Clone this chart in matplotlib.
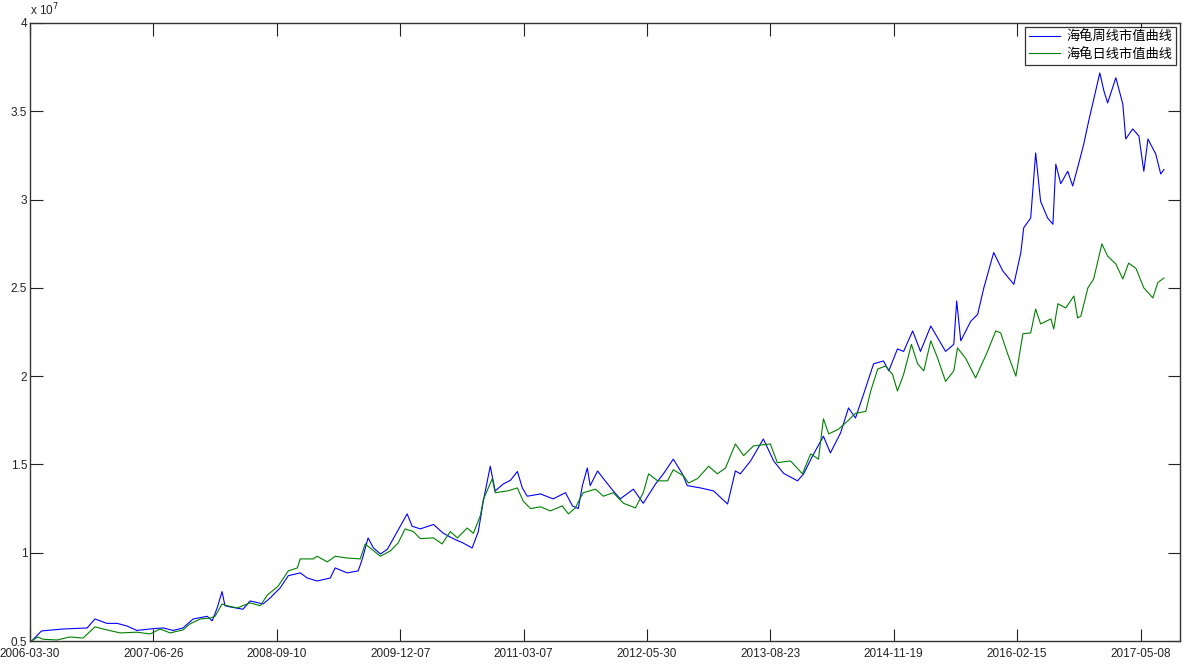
import matplotlib
matplotlib.use('Agg')
import matplotlib.pyplot as plt

plt.rcParams['font.family'] = ['Liberation Sans', 'Noto Sans CJK SC', 'DejaVu Sans']

# trading day index and account value (x 10^7)
weekIdx = [4, 28, 80, 139, 158, 187, 212, 236, 260, 299, 324, 348, 372, 397, 431, 443, 455, 467, 474, 487,
           518, 535, 567, 584, 608, 628, 657, 674, 698, 730, 742, 771, 798, 808, 822, 835, 852, 869, 893, 917,
           929, 949, 981, 1005, 1029, 1053, 1075, 1090, 1102, 1119, 1131, 1151, 1168, 1185, 1197, 1209, 1241,
           1272, 1302, 1319, 1333, 1343, 1355, 1362, 1380, 1394, 1418, 1435, 1467, 1491, 1521, 1540, 1564,
           1586, 1598, 1630, 1662, 1696, 1715, 1727, 1752, 1783, 1808, 1832, 1866, 1881, 1903, 1929, 1946,
           1971, 1990, 2007, 2027, 2051, 2075, 2088, 2109, 2124, 2146, 2165, 2190, 2207, 2226, 2246, 2253,
           2263, 2287, 2304, 2319, 2343, 2365, 2392, 2409, 2416, 2433, 2445, 2457, 2474, 2487, 2494, 2506,
           2523, 2535, 2547, 2562, 2574, 2591, 2601, 2611, 2620, 2640, 2657, 2664, 2681, 2696, 2708, 2718,
           2737, 2749, 2757]
weekVal = [0.50, 0.557, 0.568, 0.574, 0.625, 0.60, 0.60, 0.585, 0.56, 0.57, 0.574, 0.56, 0.574, 0.625, 0.64,
           0.614, 0.687, 0.78, 0.70, 0.693, 0.68, 0.727, 0.71, 0.744, 0.80, 0.87, 0.886, 0.857, 0.84, 0.857,
           0.914, 0.886, 0.897, 0.965, 1.084, 1.027, 0.993, 1.02, 1.12, 1.22, 1.15, 1.135, 1.16, 1.11, 1.08,
           1.055, 1.027, 1.12, 1.29, 1.49, 1.35, 1.39, 1.41, 1.46, 1.367, 1.32, 1.333, 1.305, 1.34, 1.265,
           1.25, 1.38, 1.48, 1.38, 1.463, 1.42, 1.35, 1.305, 1.36, 1.28, 1.39, 1.447, 1.53, 1.447, 1.38,
           1.367, 1.35, 1.276, 1.463, 1.447, 1.52, 1.644, 1.52, 1.45, 1.407, 1.447, 1.55, 1.66, 1.565, 1.68,
           1.82, 1.763, 1.90, 2.07, 2.086, 2.03, 2.154, 2.14, 2.256, 2.14, 2.284, 2.216, 2.14, 2.18, 2.426,
           2.20, 2.31, 2.35, 2.50, 2.70, 2.596, 2.52, 2.70, 2.84, 2.896, 3.264, 2.99, 2.896, 2.86, 3.20, 3.09,
           3.16, 3.077, 3.18, 3.315, 3.445, 3.615, 3.717, 3.615, 3.547, 3.69, 3.54, 3.343, 3.40, 3.36, 3.16,
           3.343, 3.258, 3.145, 3.17]

dayIdx = [4, 19, 32, 66, 97, 129, 158, 187, 219, 260, 292, 316, 341, 372, 389, 414, 438, 450, 467, 479, 504,
          535, 560, 577, 603, 628, 650, 657, 689, 698, 723, 742, 771, 803, 815, 827, 852, 876, 895, 912, 932,
          949, 981, 1002, 1022, 1039, 1063, 1078, 1095, 1102, 1124, 1131, 1161, 1185, 1199, 1217, 1241, 1265,
          1294, 1309, 1326, 1338, 1345, 1375, 1394, 1418, 1443, 1472, 1491, 1504, 1526, 1550, 1564, 1589,
          1601, 1623, 1650, 1671, 1691, 1715, 1735, 1759, 1800, 1817, 1849, 1878, 1898, 1917, 1929, 1942,
          1966, 1988, 2007, 2032, 2044, 2061, 2080, 2097, 2109, 2124, 2143, 2158, 2173, 2190, 2207, 2226,
          2246, 2255, 2275, 2299, 2328, 2348, 2360, 2377, 2397, 2414, 2433, 2445, 2457, 2482, 2489, 2499,
          2518, 2538, 2547, 2555, 2572, 2586, 2606, 2620, 2640, 2657, 2671, 2689, 2708, 2730, 2742, 2757]
dayVal = [0.50, 0.523, 0.51, 0.506, 0.523, 0.517, 0.58, 0.563, 0.546, 0.55, 0.54, 0.568, 0.546, 0.563, 0.597,
          0.625, 0.63, 0.64, 0.71, 0.70, 0.687, 0.716, 0.70, 0.76, 0.81, 0.897, 0.914, 0.965, 0.965, 0.98,
          0.948, 0.98, 0.97, 0.965, 1.05, 1.027, 0.98, 1.01, 1.055, 1.135, 1.12, 1.08, 1.084, 1.05, 1.12,
          1.084, 1.14, 1.11, 1.21, 1.30, 1.42, 1.34, 1.35, 1.367, 1.293, 1.25, 1.26, 1.237, 1.265, 1.22,
          1.254, 1.31, 1.34, 1.36, 1.32, 1.34, 1.28, 1.254, 1.34, 1.447, 1.407, 1.407, 1.47, 1.435, 1.395,
          1.42, 1.49, 1.447, 1.48, 1.616, 1.55, 1.605, 1.616, 1.51, 1.52, 1.447, 1.56, 1.53, 1.758, 1.673,
          1.70, 1.746, 1.79, 1.80, 1.916, 2.04, 2.058, 2.01, 1.916, 2.01, 2.18, 2.07, 2.03, 2.20, 2.10, 1.97,
          2.03, 2.16, 2.10, 1.99, 2.14, 2.256, 2.245, 2.126, 2.0, 2.24, 2.245, 2.38, 2.296, 2.324, 2.267,
          2.41, 2.386, 2.454, 2.33, 2.34, 2.50, 2.55, 2.749, 2.68, 2.635, 2.55, 2.64, 2.61, 2.50, 2.443,
          2.53, 2.556]

xTicks = [0, 300, 600, 900, 1200, 1500, 1800, 2100, 2400, 2700]
xLabels = ['2006-03-30', '2007-06-26', '2008-09-10', '2009-12-07', '2011-03-07',
           '2012-05-30', '2013-08-23', '2014-11-19', '2016-02-15', '2017-05-08']
yTicks = [0.5, 1, 1.5, 2, 2.5, 3, 3.5, 4]
yLabels = ['0.5', '1', '1.5', '2', '2.5', '3', '3.5', '4']

fig = plt.figure(figsize=(11.85, 6.66), dpi=100)
ax = fig.add_axes([0.0253, 0.0375, 0.9705, 0.928])

ax.plot(weekIdx, weekVal, color=(0, 0, 1), lw=0.8, label='海龟周线市值曲线')
ax.plot(dayIdx, dayVal, color=(0, 0.5, 0), lw=0.8, label='海龟日线市值曲线')

ax.set_xlim(0, 2796)
ax.set_ylim(0.5, 4)
ax.set_xticks(xTicks)
ax.set_xticklabels(xLabels)
ax.set_yticks(yTicks)
ax.set_yticklabels(yLabels)
ax.tick_params(direction='in', length=9, width=0.8, top=True, right=True,
               labelsize=8.5, colors='#222222')
ax.tick_params(axis='x', pad=5)
ax.tick_params(axis='y', pad=2)
for s in ax.spines.values():
    s.set_linewidth(1.0)
    s.set_color('#333333')

ax.text(0.0, 1.008, 'x 10$^7$', transform=ax.transAxes, fontsize=8.5,
        ha='left', va='bottom', color='#222222')

leg = ax.legend(loc='upper right', frameon=True, fancybox=False,
                borderaxespad=0.3, handlelength=2.3, handletextpad=0.5,
                borderpad=0.3, labelspacing=0.3,
                prop={'family': ['Noto Sans CJK SC', 'DejaVu Sans'], 'size': 9.5})
leg.get_frame().set_edgecolor('black')
leg.get_frame().set_linewidth(0.9)

fig.savefig('out.png', dpi=100)
